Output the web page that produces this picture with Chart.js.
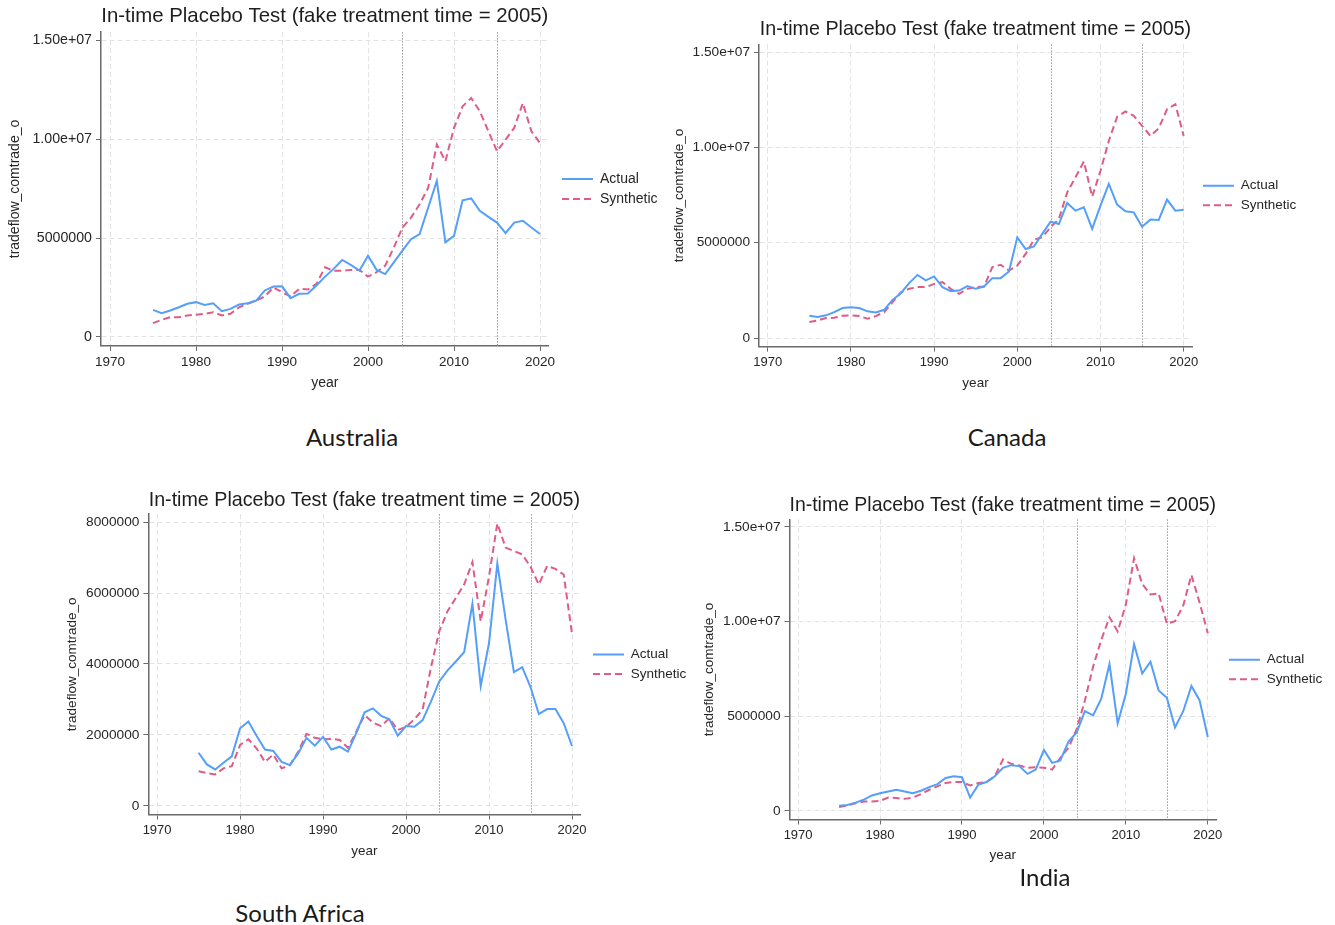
<!DOCTYPE html>
<html>
<head>
<meta charset="utf-8">
<title>In-time Placebo Test</title>
<script src="https://cdn.jsdelivr.net/npm/chart.js@4.4.1/dist/chart.umd.min.js"></script>
<style>
  html, body { margin: 0; padding: 0; background: #ffffff; }
  body { width: 1335px; height: 925px; position: relative; overflow: hidden; }
  .panel { position: absolute; }
  .panel canvas { display: block; }
  .caption {
    position: absolute; width: 300px; text-align: center;
    font-family: Lato, "Open Sans", sans-serif; font-size: 24px; line-height: 30px; color: #1a1a1a;
  }
</style>
</head>
<body>
<div class="panel" id="panel0"><canvas id="chart0"></canvas></div>
<div class="panel" id="panel1"><canvas id="chart1"></canvas></div>
<div class="panel" id="panel2"><canvas id="chart2"></canvas></div>
<div class="panel" id="panel3"><canvas id="chart3"></canvas></div>
<div class="caption" id="cap0"></div>
<div class="caption" id="cap1"></div>
<div class="caption" id="cap2"></div>
<div class="caption" id="cap3"></div>

<script>
// ---- data ----
const years = [1975, 1976, 1977, 1978, 1979, 1980, 1981, 1982, 1983, 1984,
               1985, 1986, 1987, 1988, 1989, 1990, 1991, 1992, 1993, 1994,
               1995, 1996, 1997, 1998, 1999, 2000, 2001, 2002, 2003, 2004,
               2005, 2006, 2007, 2008, 2009, 2010, 2011, 2012, 2013, 2014,
               2015, 2016, 2017, 2018, 2019, 2020];

const seriesNames = ['Actual', 'Synthetic'];
const chartTitle = 'In-time Placebo Test (fake treatment time = 2005)';
const xAxisTitle = 'year';
const yAxisTitle = 'tradeflow_comtrade_o';
const countryNames = ['Australia', 'Canada', 'South Africa', 'India'];

const xTickValues = [1970, 1980, 1990, 2000, 2010, 2020];
const markerYears = [2004, 2015];

const yTicksLarge = [0, 5e6, 1e7, 1.5e7];
const yTickLabelsLarge = ['0', '5000000', '1.00e+07', '1.50e+07'];
const yTicksSmall = [0, 2e6, 4e6, 6e6, 8e6];
const yTickLabelsSmall = ['0', '2000000', '4000000', '6000000', '8000000'];

const australiaActual = [
  1.37e6, 1.20e6, 1.34e6, 1.50e6, 1.68e6, 1.76e6, 1.62e6, 1.70e6, 1.30e6, 1.42e6,
  1.64e6, 1.70e6, 1.84e6, 2.35e6, 2.55e6, 2.56e6, 1.96e6, 2.18e6, 2.20e6, 2.60e6,
  3.05e6, 3.44e6, 3.89e6, 3.64e6, 3.35e6, 4.10e6, 3.39e6, 3.18e6, 3.77e6, 4.36e6,
  4.94e6, 5.20e6, 6.54e6, 7.88e6, 4.78e6, 5.11e6, 6.90e6, 7.00e6, 6.37e6, 6.07e6,
  5.78e6, 5.25e6, 5.78e6, 5.87e6, 5.53e6, 5.20e6];
const australiaSynthetic = [
  0.70e6, 0.87e6, 1.00e6, 1.00e6, 1.09e6, 1.12e6, 1.17e6, 1.25e6, 1.09e6, 1.17e6,
  1.50e6, 1.68e6, 1.84e6, 2.05e6, 2.50e6, 2.26e6, 2.05e6, 2.43e6, 2.40e6, 2.68e6,
  3.52e6, 3.35e6, 3.35e6, 3.39e6, 3.39e6, 3.05e6, 3.27e6, 3.60e6, 4.52e6, 5.53e6,
  6.03e6, 6.70e6, 7.54e6, 9.72e6, 8.88e6, 10.56e6, 11.65e6, 12.07e6, 11.40e6, 10.39e6,
  9.38e6, 9.97e6, 10.56e6, 11.81e6, 10.39e6, 9.80e6];

const canadaActual = [
  1.17e6, 1.10e6, 1.19e6, 1.36e6, 1.57e6, 1.62e6, 1.57e6, 1.40e6, 1.34e6, 1.48e6,
  2.00e6, 2.35e6, 2.88e6, 3.31e6, 3.02e6, 3.23e6, 2.67e6, 2.46e6, 2.49e6, 2.72e6,
  2.58e6, 2.70e6, 3.14e6, 3.14e6, 3.49e6, 5.28e6, 4.67e6, 4.80e6, 5.46e6, 6.10e6,
  5.98e6, 7.08e6, 6.68e6, 6.86e6, 5.72e6, 6.94e6, 8.08e6, 7.00e6, 6.65e6, 6.59e6,
  5.84e6, 6.21e6, 6.19e6, 7.26e6, 6.68e6, 6.73e6];
const canadaSynthetic = [
  0.84e6, 0.92e6, 1.05e6, 1.06e6, 1.17e6, 1.19e6, 1.15e6, 1.01e6, 1.15e6, 1.36e6,
  1.88e6, 2.40e6, 2.58e6, 2.67e6, 2.67e6, 2.84e6, 2.93e6, 2.58e6, 2.32e6, 2.58e6,
  2.67e6, 2.70e6, 3.72e6, 3.84e6, 3.54e6, 3.80e6, 4.41e6, 5.15e6, 5.29e6, 5.81e6,
  6.24e6, 7.64e6, 8.43e6, 9.26e6, 7.41e6, 8.77e6, 10.34e6, 11.60e6, 11.88e6, 11.65e6,
  11.13e6, 10.60e6, 11.00e6, 12.00e6, 12.26e6, 10.60e6];

const southAfricaActual = [
  1.50e6, 1.17e6, 1.03e6, 1.22e6, 1.40e6, 2.19e6, 2.38e6, 1.97e6, 1.59e6, 1.55e6,
  1.24e6, 1.15e6, 1.48e6, 1.92e6, 1.70e6, 1.95e6, 1.59e6, 1.67e6, 1.53e6, 2.05e6,
  2.64e6, 2.75e6, 2.54e6, 2.44e6, 1.98e6, 2.25e6, 2.23e6, 2.42e6, 2.94e6, 3.51e6,
  3.82e6, 4.07e6, 4.33e6, 5.70e6, 3.38e6, 4.59e6, 6.83e6, 5.25e6, 3.77e6, 3.91e6,
  3.35e6, 2.59e6, 2.73e6, 2.73e6, 2.33e6, 1.69e6];
const southAfricaSynthetic = [
  0.98e6, 0.93e6, 0.89e6, 1.06e6, 1.12e6, 1.72e6, 1.88e6, 1.62e6, 1.24e6, 1.45e6,
  1.06e6, 1.15e6, 1.53e6, 2.03e6, 1.92e6, 1.88e6, 1.89e6, 1.86e6, 1.64e6, 2.09e6,
  2.56e6, 2.35e6, 2.25e6, 2.47e6, 2.14e6, 2.23e6, 2.44e6, 2.72e6, 3.90e6, 4.92e6,
  5.49e6, 5.86e6, 6.24e6, 6.87e6, 5.20e6, 6.47e6, 7.96e6, 7.28e6, 7.18e6, 7.09e6,
  6.74e6, 6.24e6, 6.76e6, 6.68e6, 6.52e6, 4.85e6];

const indiaActual = [
  0.28e6, 0.32e6, 0.44e6, 0.59e6, 0.82e6, 0.94e6, 1.03e6, 1.12e6, 1.03e6, 0.94e6,
  1.07e6, 1.26e6, 1.42e6, 1.74e6, 1.83e6, 1.78e6, 0.71e6, 1.39e6, 1.53e6, 1.83e6,
  2.28e6, 2.42e6, 2.37e6, 1.96e6, 2.19e6, 3.22e6, 2.54e6, 2.67e6, 3.67e6, 4.15e6,
  5.27e6, 5.05e6, 5.93e6, 7.76e6, 4.63e6, 6.19e6, 8.81e6, 7.26e6, 7.88e6, 6.37e6,
  5.98e6, 4.41e6, 5.27e6, 6.60e6, 5.84e6, 3.91e6];
const indiaSynthetic = [
  0.21e6, 0.28e6, 0.41e6, 0.50e6, 0.50e6, 0.53e6, 0.71e6, 0.68e6, 0.64e6, 0.71e6,
  0.89e6, 1.12e6, 1.30e6, 1.48e6, 1.53e6, 1.53e6, 1.35e6, 1.48e6, 1.53e6, 1.83e6,
  2.72e6, 2.49e6, 2.40e6, 2.28e6, 2.31e6, 2.28e6, 2.19e6, 2.81e6, 3.35e6, 4.32e6,
  5.84e6, 7.62e6, 9.04e6, 10.23e6, 9.48e6, 10.91e6, 13.35e6, 11.98e6, 11.44e6, 11.49e6,
  9.89e6, 10.02e6, 10.85e6, 12.46e6, 11.00e6, 9.39e6];

// ---- look ----
const FONT = '"Liberation Sans", Arial, Helvetica, sans-serif';
const COLOR_ACTUAL = '#559ff9';
const COLOR_SYNTH = '#df5c86';
const GRID_COLOR = '#e2e2e2';
const AXIS_COLOR = '#6a6a6a';
const TEXT_COLOR = '#262626';
const X_MIN = 1968.95, X_MAX = 2021.0;
const SYNTH_DASH = [7, 4];

// page placement of each panel (canvas origin, plot rectangle, text anchors)
const panels = [
  { canvas: 'chart0', box: 'panel0', actual: australiaActual, synthetic: australiaSynthetic,
    yTicks: yTicksLarge, yLabels: yTickLabelsLarge, yMin: -0.45e6, yMax: 15.4e6,
    L: 0, T: 0, plot: { l: 101, r: 548.6, t: 32.1, b: 345.9 },
    titleY: 16, xTitleY: 383, yTitleX: 15, legendX: 562, k: 1.0 },
  { canvas: 'chart1', box: 'panel1', actual: canadaActual, synthetic: canadaSynthetic,
    yTicks: yTicksLarge, yLabels: yTickLabelsLarge, yMin: -0.45e6, yMax: 15.4e6,
    L: 668, T: 14, plot: { l: 759, r: 1192, t: 44.4, b: 346.6 },
    titleY: 30, xTitleY: 382, yTitleX: 679, legendX: 1203, k: 0.965 },
  { canvas: 'chart2', box: 'panel2', actual: southAfricaActual, synthetic: southAfricaSynthetic,
    yTicks: yTicksSmall, yLabels: yTickLabelsSmall, yMin: -0.24e6, yMax: 8.22e6,
    L: 60, T: 485, plot: { l: 148.4, r: 580.3, t: 514.2, b: 814.5 },
    titleY: 501, xTitleY: 850, yTitleX: 72, legendX: 593, k: 0.965 },
  { canvas: 'chart3', box: 'panel3', actual: indiaActual, synthetic: indiaSynthetic,
    yTicks: yTicksLarge, yLabels: yTickLabelsLarge, yMin: -0.45e6, yMax: 15.4e6,
    L: 700, T: 490, plot: { l: 789.5, r: 1216, t: 519.4, b: 819.5 },
    titleY: 506, xTitleY: 854, yTitleX: 709, legendX: 1229, k: 0.965 }
];

const captions = [
  { id: 'cap0', cx: 352, cy: 437 },
  { id: 'cap1', cx: 1007, cy: 437 },
  { id: 'cap2', cx: 300, cy: 913 },
  { id: 'cap3', cx: 1045, cy: 877 }
];

// dotted vertical reference lines drawn under the series
const markerLinesPlugin = {
  id: 'markerLines',
  beforeDatasetsDraw(chart, args, opts) {
    const { ctx, chartArea, scales } = chart;
    const x = scales.x;
    ctx.save();
    ctx.strokeStyle = opts.color;
    ctx.lineWidth = 1;
    ctx.setLineDash([1.5, 1.5]);
    (opts.values || []).forEach(v => {
      const px = Math.round(x.getPixelForValue(v)) + 0.5;
      ctx.beginPath();
      ctx.moveTo(px, chartArea.top);
      ctx.lineTo(px, chartArea.bottom);
      ctx.stroke();
    });
    ctx.restore();
  }
};

function toPoints(values) {
  return years.map((yr, i) => ({ x: yr, y: values[i] }));
}

// legend entries drawn as short line samples carrying each series' dash
function lineLegendLabels(chart) {
  const items = Chart.defaults.plugins.legend.labels.generateLabels(chart);
  items.forEach(item => {
    const ds = chart.data.datasets[item.datasetIndex];
    item.lineDash = ds.borderDash || [];
    item.strokeStyle = ds.borderColor;
    item.lineWidth = ds.borderWidth;
    item.pointStyle = 'line';
  });
  return items;
}

function buildPanel(p) {
  const k = p.k;
  const titleSize = 20.4 * k, xTickSize = 13.5 * k, yTickSize = 14.2 * k;
  const axisTitleSize = 14 * k, legendSize = 14 * k;
  const titleLH = titleSize * 1.2;
  const axisLH = axisTitleSize * 1.2;
  const legendPad = 6;
  const lineSample = 31;
  const gapRight = p.legendX - p.plot.r - legendPad;
  const legendW = Math.round(106 * k);

  const W = Math.ceil(p.plot.r - p.L + gapRight + legendW);
  const H = Math.ceil(p.xTitleY + axisLH / 2 - p.T);
  const yAxisW = p.plot.l - p.L;
  const xAxisH = p.T + H - p.plot.b;

  const box = document.getElementById(p.box);
  box.style.left = p.L + 'px';
  box.style.top = p.T + 'px';
  const cv = document.getElementById(p.canvas);
  cv.width = W; cv.height = H;
  cv.style.width = W + 'px'; cv.style.height = H + 'px';

  const legendWidth = W - (p.plot.r - p.L) - gapRight;

  return new Chart(cv, {
    type: 'line',
    data: {
      datasets: [
        { label: seriesNames[0], data: toPoints(p.actual), borderColor: COLOR_ACTUAL,
          backgroundColor: COLOR_ACTUAL, borderWidth: 2, pointRadius: 0, tension: 0, fill: false },
        { label: seriesNames[1], data: toPoints(p.synthetic), borderColor: COLOR_SYNTH,
          backgroundColor: COLOR_SYNTH, borderWidth: 2, borderDash: SYNTH_DASH, pointRadius: 0, tension: 0, fill: false }
      ]
    },
    plugins: [markerLinesPlugin],
    options: {
      responsive: false,
      animation: false,
      devicePixelRatio: 1,
      layout: { padding: 0 },
      events: [],
      scales: {
        x: {
          type: 'linear', position: 'bottom', min: X_MIN, max: X_MAX,
          afterBuildTicks: s => { s.ticks = xTickValues.map(v => ({ value: v })); },
          afterFit: s => { s.height = xAxisH; },
          ticks: { color: TEXT_COLOR, font: { family: FONT, size: xTickSize }, padding: 3,
                   maxRotation: 0, autoSkip: false, callback: v => String(v) },
          grid: { color: GRID_COLOR, lineWidth: 1, drawTicks: true, tickLength: 5,
                  tickColor: AXIS_COLOR, tickWidth: 1 },
          border: { display: true, color: AXIS_COLOR, width: 1.5, dash: [5, 3] },
          title: { display: true, text: xAxisTitle, color: TEXT_COLOR,
                   font: { family: FONT, size: axisTitleSize }, padding: 0 }
        },
        y: {
          type: 'linear', position: 'left', min: p.yMin, max: p.yMax,
          afterBuildTicks: s => { s.ticks = p.yTicks.map(v => ({ value: v })); },
          afterFit: s => { s.width = yAxisW; },
          ticks: { color: TEXT_COLOR, font: { family: FONT, size: yTickSize }, padding: 4,
                   autoSkip: false,
                   callback: v => { const i = p.yTicks.indexOf(v); return i >= 0 ? p.yLabels[i] : ''; } },
          grid: { color: GRID_COLOR, lineWidth: 1, drawTicks: true, tickLength: 5,
                  tickColor: AXIS_COLOR, tickWidth: 1 },
          border: { display: true, color: AXIS_COLOR, width: 1.5, dash: [5, 3] },
          title: { display: true, text: yAxisTitle, color: TEXT_COLOR,
                   font: { family: FONT, size: axisTitleSize },
                   padding: { top: p.yTitleX - p.L - axisLH / 2, bottom: 0 } }
        },
        spacer: {
          type: 'linear', position: 'right', display: true,
          grid: { display: false, drawTicks: false },
          ticks: { display: false },
          border: { display: false },
          afterFit: s => { s.width = gapRight; }
        }
      },
      plugins: {
        title: {
          display: true, text: chartTitle, fullSize: false, align: 'center',
          color: '#1e1e1e', font: { family: FONT, size: titleSize, weight: 'normal', lineHeight: 1.2 },
          padding: { top: p.titleY - p.T - titleLH / 2, bottom: p.plot.t - p.titleY - titleLH / 2 }
        },
        legend: {
          display: true, position: 'right', align: 'center', fullSize: false,
          maxWidth: legendWidth,
          labels: {
            usePointStyle: true, pointStyle: 'line', pointStyleWidth: lineSample,
            padding: legendPad, color: TEXT_COLOR,
            font: { family: FONT, size: legendSize },
            generateLabels: lineLegendLabels
          }
        },
        tooltip: { enabled: false },
        markerLines: { values: markerYears, color: '#9a9a9a' }
      }
    }
  });
}

panels.forEach(buildPanel);

captions.forEach((c, i) => {
  const el = document.getElementById(c.id);
  el.textContent = countryNames[i];
  el.style.left = (c.cx - 150) + 'px';
  el.style.top = (c.cy - 15) + 'px';
});
</script>
</body>
</html>
